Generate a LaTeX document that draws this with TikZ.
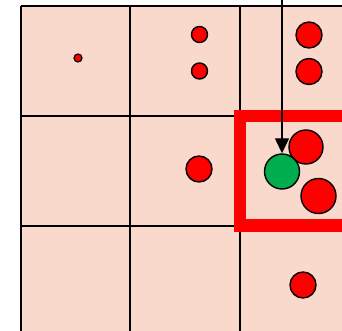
\documentclass[tikz,border=0pt]{standalone}
\usepackage{tikz}
\usetikzlibrary{arrows.meta,positioning}
\usepackage{xcolor}
\definecolor{peach}{HTML}{F8D9CC}
\definecolor{dotred}{HTML}{FF0000}
\definecolor{dotgreen}{HTML}{00AD4E}

\begin{document}
\begin{tikzpicture}[x=1pt,y=-1pt,>={Triangle[width=14pt,length=15pt]},
 dot/.style={circle,draw=black,line width=1.4pt,fill=dotred,inner sep=0pt},
 grn/.style={dot,fill=dotgreen},
 gridline/.style={draw=black,line width=2pt},
 arr/.style={->,draw=black,line width=1.4pt}]
\useasboundingbox (0,0) rectangle (342,331);
\clip (0,0) rectangle (342,331);
\fill[peach] (20.5,6) rectangle (360,340);
\foreach \x in {20.5,130,240} \draw[gridline] (\x,6)--(\x,340);
\foreach \y in {6,116,226} \draw[gridline] (20.5,\y)--(360,\y);
\draw[draw=dotred,line width=12.5pt] (240,116) rectangle (380,225.5);
\node[dot,minimum size=8pt,line width=1.2pt] (tiny) at (78,58) {};
\node[dot,minimum size=16pt] (ma) at (199.5,34.5) {};
\node[dot,minimum size=16pt] (mb) at (199.5,71) {};
\node[dot,minimum size=26pt] (ra) at (309,35) {};
\node[dot,minimum size=26pt] (rb) at (309,71.5) {};
\node[dot,minimum size=26pt] (mid) at (199,169) {};
\node[dot,minimum size=34pt] (upper) at (306,147) {};
\node[dot,minimum size=35pt] (lower) at (318.5,196) {};
\node[grn,minimum size=35pt] (query) at (282,171.5) {};
\node[dot,minimum size=26pt] (bottom) at (303,285) {};
\coordinate (top) at (282,-2);
\draw[arr] (top)--(query.north);
\end{tikzpicture}
\end{document}
